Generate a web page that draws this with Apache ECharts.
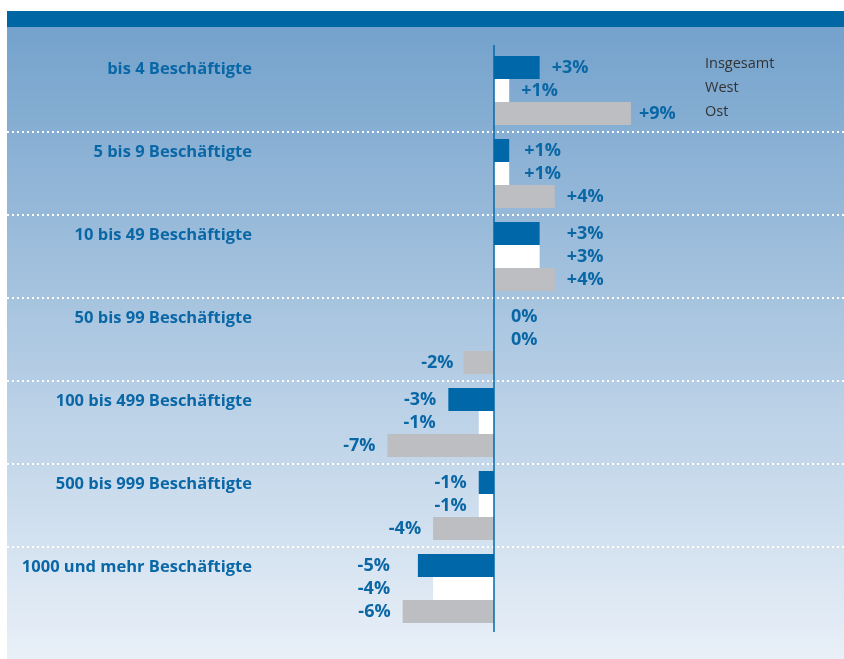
<!DOCTYPE html>
<html>
<head>
<meta charset="utf-8">
<script src="https://cdn.jsdelivr.net/npm/echarts@6/dist/echarts.min.js"></script>
<style>
  html, body { margin: 0; padding: 0; background: #fff; }
  #chart { width: 844px; height: 659px; }
</style>
</head>
<body>
<div id="chart"></div>
<script>
// Betriebsgrößenklassen
var categories = ['bis 4 Beschäftigte', '5 bis 9 Beschäftigte', '10 bis 49 Beschäftigte',
    '50 bis 99 Beschäftigte', '100 bis 499 Beschäftigte', '500 bis 999 Beschäftigte',
    '1000 und mehr Beschäftigte'];
var seriesNames = ['Insgesamt', 'West', 'Ost'];
// Veränderung in %
var insgesamt = [3, 1, 3, 0, -3, -1, -5];
var west = [1, 1, 3, 0, -1, -1, -4];
var ost = [9, 4, 4, -2, -7, -4, -6];

var blue = '#0068a8';
var labelBlue = '#0a67a6';

// kleine Verschiebungen der Beschriftungen wie im Original
var labelShift = {
    'Insgesamt': {1: 3, 2: 15, 3: 5, 6: -16},
    'West': {1: 3, 2: 15, 3: 5, 4: -31, 6: -31},
    'Ost': {0: -4, 3: 2}
};

function fmt(v) {
    if (v > 0) return '+' + v + '%';
    return v + '%';
}

function makeSeries(name, data, color) {
    return {
        name: name,
        type: 'bar',
        barWidth: 23,
        barGap: '0%',
        itemStyle: {color: color},
        data: data.map(function (v, i) {
            var shift = (labelShift[name] && labelShift[name][i]) || 0;
            return {
                value: v,
                label: {
                    position: v < 0 ? 'left' : 'right',
                    offset: [shift, 0]
                }
            };
        }),
        label: {
            show: true,
            distance: 12,
            formatter: function (p) { return fmt(p.value); },
            color: labelBlue,
            fontFamily: 'Open Sans',
            fontWeight: 'bold',
            fontSize: 18
        }
    };
}

var chart = echarts.init(document.getElementById('chart'));

var series = [
    makeSeries('Insgesamt', insgesamt, blue),
    makeSeries('West', west, '#ffffff'),
    makeSeries('Ost', ost, '#bdbec1')
];
// Nulllinie
series[0].markLine = {
    silent: true,
    symbol: 'none',
    label: {show: false},
    lineStyle: {color: blue, width: 1.5, type: 'solid'},
    data: [[{xAxis: 0, y: 45}, {xAxis: 0, y: 632}]]
};

chart.setOption({
    animation: false,
    backgroundColor: '#ffffff',
    graphic: [
        {
            type: 'rect', z: -10, silent: true,
            shape: {x: 7, y: 27, width: 837, height: 632},
            style: {
                fill: new echarts.graphic.LinearGradient(0, 0, 0, 1, [
                    {offset: 0, color: '#74a2cc'},
                    {offset: 1, color: '#e9f0f8'}
                ])
            }
        },
        {
            type: 'rect', z: -10, silent: true,
            shape: {x: 7, y: 11, width: 837, height: 16},
            style: {fill: '#0067a4'}
        }
    ],
    legend: {
        data: seriesNames,
        orient: 'vertical',
        left: 695,
        top: 51,
        itemWidth: 0,
        itemHeight: 0,
        itemGap: 9,
        selectedMode: false,
        textStyle: {color: '#333333', fontFamily: 'Open Sans', fontSize: 14.5}
    },
    grid: {left: 7, right: 0, top: 49, height: 581, containLabel: false},
    xAxis: {
        type: 'value',
        min: -32,
        max: 23,
        show: false
    },
    yAxis: {
        type: 'category',
        data: categories,
        inverse: true,
        offset: -253,
        axisLine: {show: false},
        axisTick: {show: false},
        axisLabel: {
            interval: 0,
            showMinLabel: true,
            showMaxLabel: true,
            hideOverlap: false,
            margin: 8,
            color: labelBlue,
            fontFamily: 'Open Sans',
            fontWeight: 'bold',
            fontSize: 16.5,
            lineHeight: 42,
            formatter: function (v) { return v + '\n '; }
        },
        splitLine: {
            show: true,
            showMinLine: false,
            showMaxLine: false,
            lineStyle: {color: '#ffffff', width: 2, type: [2, 3]}
        }
    },
    series: series
});
</script>
</body>
</html>
